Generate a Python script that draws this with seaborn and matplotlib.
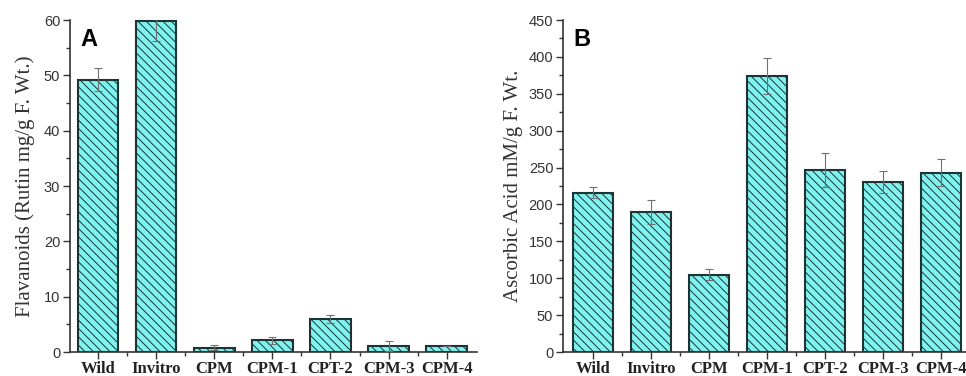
import numpy as np
import pandas as pd
import matplotlib
matplotlib.use("Agg")
import matplotlib.pyplot as plt
from matplotlib.ticker import MultipleLocator, FixedLocator
import seaborn as sns

categories = ["Wild", "Invitro", "CPM", "CPM-1", "CPT-2", "CPM-3", "CPM-4"]
flav_mean = [49.2, 59.9, 0.8, 2.1, 5.9, 1.1, 1.0]
flav_err = [2.1, 3.7, 0.5, 0.6, 0.7, 0.9, 0.0]
asc_mean = [216, 190, 105, 374, 247, 230, 243]
asc_err = [7, 16, 7, 24, 23, 15, 18]

sns.set_theme(style="white")
plt.rcParams["hatch.linewidth"] = 0.7
plt.rcParams["hatch.color"] = "#4bb3b9"

fig = plt.figure(figsize=(9.66, 3.76), dpi=100)
axA = fig.add_axes([70/966, 24/376, (477-70)/966, (352-20)/376])
axB = fig.add_axes([563/966, 24/376, (966-563)/966, (352-20)/376])

fill = "#7ff3ef"
edge = "#1d3434"
serif = ["Liberation Serif", "DejaVu Serif"]
sans = ["Liberation Sans", "DejaVu Sans"]

panels = [
    (axA, flav_mean, flav_err, (0, 60), 10, 5, "Flavanoids (Rutin mg/g F. Wt.)", "A", (-0.48, 6.52), -0.085),
    (axB, asc_mean, asc_err, (0, 450), 50, 25, "Ascorbic Acid mM/g F. Wt.", "B", (-0.52, 6.43), -0.10),
]

for ax, mean, err, ylim, major, minor, ylabel, letter, xlim, ylx in panels:
    df = pd.DataFrame({"cat": categories, "val": mean})
    sns.barplot(data=df, x="cat", y="val", ax=ax, color=fill, saturation=1,
                width=0.7, edgecolor=edge, linewidth=1.5, hatch="\\\\\\\\", errorbar=None)
    ax.errorbar(np.arange(len(categories)), mean, yerr=err, fmt="none",
                ecolor="#707070", elinewidth=0.8, capsize=3, capthick=0.8, zorder=5)
    ax.set_ylim(*ylim)
    ax.set_xlim(*xlim)
    ax.yaxis.set_major_locator(MultipleLocator(major))
    ax.yaxis.set_minor_locator(MultipleLocator(minor))
    ax.xaxis.set_minor_locator(FixedLocator(np.arange(len(categories) - 1) + 0.5))
    for s in ["top", "right"]:
        ax.spines[s].set_visible(False)
    for s in ["left", "bottom"]:
        ax.spines[s].set_color("#333333")
        ax.spines[s].set_linewidth(1.2)
    ax.tick_params(axis="both", which="major", direction="out", length=5, width=1.0,
                   color="#333333", left=True, bottom=True)
    ax.tick_params(axis="both", which="minor", direction="out", length=3, width=1.0,
                   color="#333333", left=True, bottom=True)
    ax.tick_params(axis="y", labelsize=10.5, labelcolor="#333333", pad=2)
    ax.tick_params(axis="x", pad=1.5)
    for lab in ax.get_yticklabels():
        lab.set_family(sans)
    for lab in ax.get_xticklabels():
        lab.set_family(serif)
        lab.set_fontweight("bold")
        lab.set_fontsize(12)
        lab.set_color("#222222")
    ax.set_xlabel("")
    ax.set_ylabel(ylabel, family=serif, fontsize=15, color="#333333")
    ax.yaxis.set_label_coords(ylx, 0.5)
    ax.text(0.025, 0.975, letter, transform=ax.transAxes, ha="left", va="top",
            fontsize=17, fontweight="bold", family=sans, color="black")
    ax.grid(False)

fig.savefig("out.png", dpi=100)
